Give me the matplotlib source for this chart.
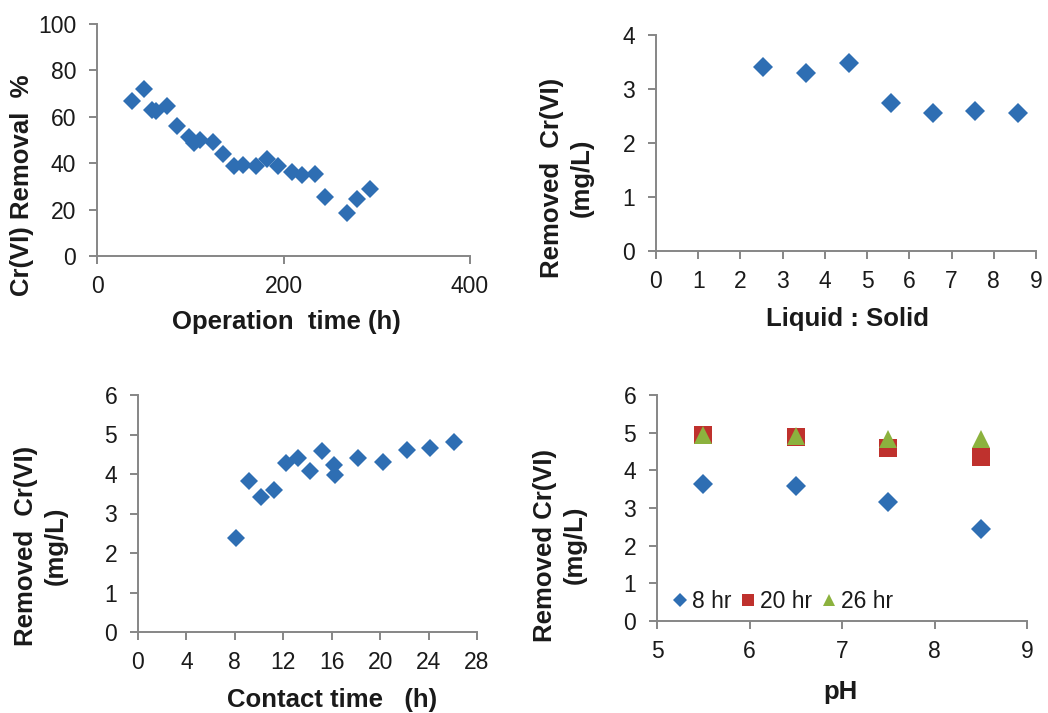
import matplotlib
matplotlib.use('Agg')
import matplotlib.pyplot as plt

plt.rcParams['font.family'] = ['Liberation Sans', 'DejaVu Sans']

# Panel (a): removal vs operation time
op_time = [37, 50, 59, 63, 75, 86, 99, 104, 110, 124, 135, 147, 157, 170,
           182, 194, 209, 220, 234, 245, 268, 279, 293]
removal_pct = [67, 72, 63, 62.5, 64.5, 56, 51.5, 48.7, 50, 49, 44, 38.6, 39.3,
               39, 42, 38.6, 36.4, 35, 35.4, 25.4, 18.4, 24.5, 29]

# Panel (b): removed Cr(VI) vs liquid:solid ratio
ls_ratio = [2.53, 3.55, 4.56, 5.56, 6.55, 7.55, 8.58]
removed_ls = [3.41, 3.29, 3.49, 2.75, 2.55, 2.60, 2.55]

# Panel (c): removed Cr(VI) vs contact time
contact_time = [8.1, 9.2, 10.2, 11.2, 12.2, 13.2, 14.2, 15.2, 16.2, 16.3,
                18.2, 20.2, 22.2, 24.1, 26.1]
removed_ct = [2.39, 3.82, 3.42, 3.59, 4.27, 4.41, 4.07, 4.58, 4.23, 3.97,
              4.41, 4.31, 4.62, 4.66, 4.82]

# Panel (d): removed Cr(VI) vs pH at three contact times
ph = [5.5, 6.5, 7.5, 8.5]
removed_8hr = [3.64, 3.59, 3.17, 2.43]
removed_20hr = [4.94, 4.88, 4.60, 4.35]
removed_26hr = [4.94, 4.92, 4.82, 4.82]

BLUE = '#2E6EB3'
RED = '#BF312D'
GREEN = '#8CB23E'
AXIS = '#868686'
TXT = '#1a1a1a'

W, H = 1048, 713
fig = plt.figure(figsize=(W / 100, H / 100), dpi=100)


def add_axes(left, top, right, bottom):
    # pixel box -> figure fraction
    return fig.add_axes([left / W, 1 - bottom / H, (right - left) / W, (bottom - top) / H])


def style(ax, xlim, xticks, ylim, yticks):
    ax.set_xlim(*xlim)
    ax.set_ylim(*ylim)
    ax.set_xticks(xticks)
    ax.set_yticks(yticks)
    for s in ['top', 'right']:
        ax.spines[s].set_visible(False)
    for s in ['left', 'bottom']:
        ax.spines[s].set_color(AXIS)
        ax.spines[s].set_linewidth(1.4)
    ax.tick_params(axis='both', direction='out', length=6, width=1.4,
                   color=AXIS, labelsize=16.5, labelcolor=TXT)
    ax.tick_params(axis='x', pad=7.5)
    ax.tick_params(axis='y', pad=9)


def label(x, y, text, rot=0):
    fig.text(x / W, 1 - y / H, text, rotation=rot, ha='center', va='center',
             fontsize=18.5, fontweight='bold', color=TXT, multialignment='center',
             linespacing=1.3)


# (a)
ax1 = add_axes(97, 24, 470, 256)
ax1.plot(op_time, removal_pct, 'D', color=BLUE, ms=9, mew=0, clip_on=False)
style(ax1, (0, 400), [0, 200, 400], (0, 100), range(0, 101, 20))
label(286, 322, 'Operation  time (h)')
label(22, 185, 'Cr(VI) Removal  %', rot=90)

# (b)
ax2 = add_axes(656, 35, 1036, 251)
ax2.plot(ls_ratio, removed_ls, 'D', color=BLUE, ms=10.5, mew=0, clip_on=False)
style(ax2, (0, 9), range(0, 10), (0, 4), range(0, 5))
label(847, 319, 'Liquid : Solid')
label(567, 178, 'Removed  Cr(VI)\n(mg/L)', rot=90)

# (c)
ax3 = add_axes(138, 395, 477, 632)
ax3.plot(contact_time, removed_ct, 'D', color=BLUE, ms=9.5, mew=0, clip_on=False)
style(ax3, (0, 28), range(0, 29, 4), (0, 6), range(0, 7))
label(332, 700, 'Contact time   (h)')
label(41, 546, 'Removed  Cr(VI)\n(mg/L)', rot=90)

# (d)
ax4 = add_axes(657, 395, 1027, 621)
ax4.plot(ph, removed_8hr, 'D', color=BLUE, ms=10, mew=0, label='8 hr', clip_on=False)
ax4.plot(ph, removed_20hr, 's', color=RED, ms=12.5, mew=0, label='20 hr', clip_on=False)
ax4.plot(ph, removed_26hr, '^', color=GREEN, ms=12.5, mew=0, label='26 hr', clip_on=False)
style(ax4, (5, 9), range(5, 10), (0, 6), range(0, 7))
label(840, 692, 'pH')
label(560, 545, 'Removed Cr(VI)\n(mg/L)', rot=90)
leg = ax4.legend(loc='lower left', bbox_to_anchor=(0.038, 0.035), ncol=3,
                 frameon=False, fontsize=16.5, handlelength=0.8, handletextpad=0.1,
                 columnspacing=0.35, borderpad=0, borderaxespad=0, markerscale=0.7)
for t in leg.get_texts():
    t.set_color(TXT)

fig.savefig('out.png', dpi=100)
